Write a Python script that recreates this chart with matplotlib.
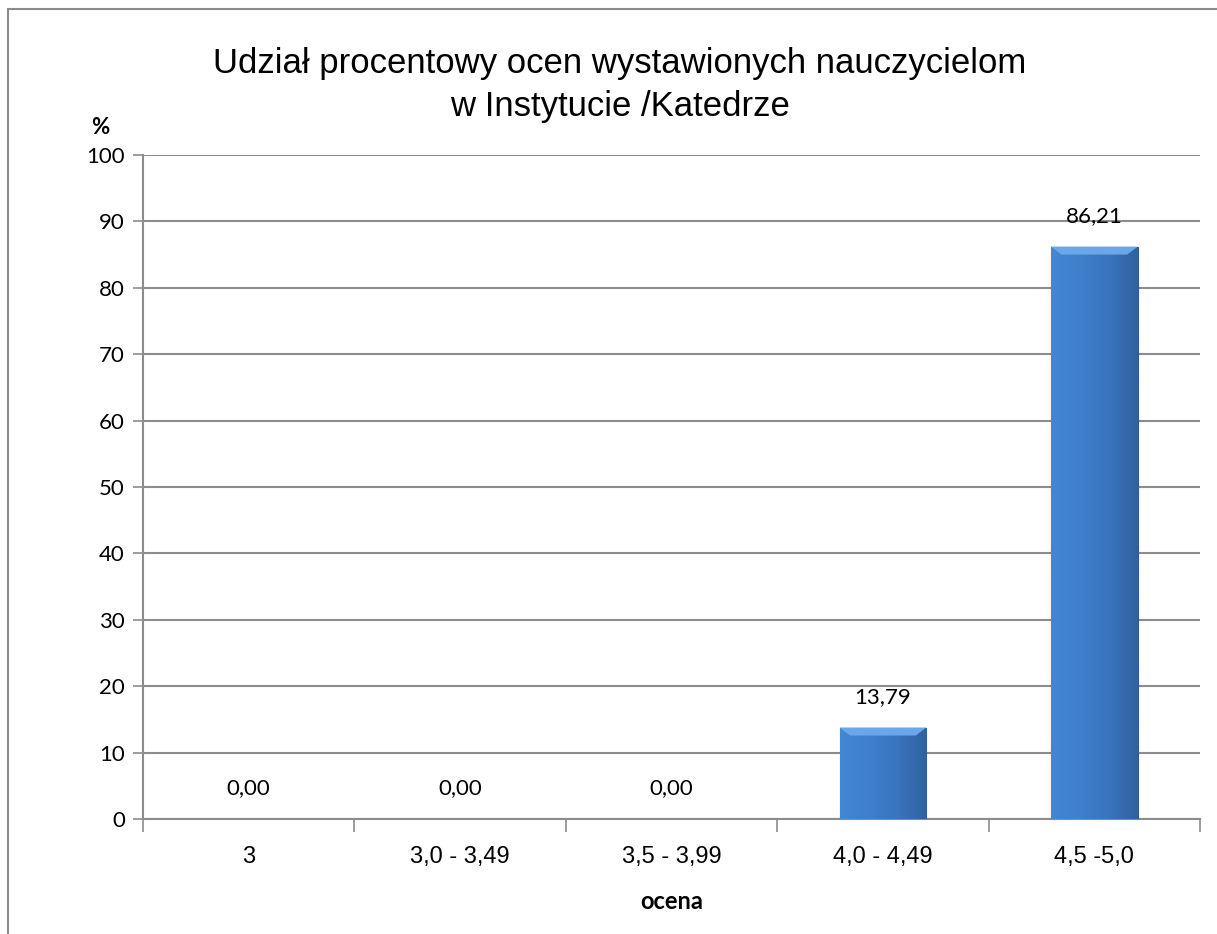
import matplotlib.pyplot as plt
import matplotlib.patches as mpatches
import numpy as np
from matplotlib.colors import LinearSegmentedColormap

categories = ["3", "3,0 - 3,49", "3,5 - 3,99", "4,0 - 4,49", "4,5 -5,0"]
values = [0.00, 0.00, 0.00, 13.79, 86.21]
title = "Udział procentowy ocen wystawionych nauczycielom\nw Instytucie /Katedrze"

narrow = ['Liberation Sans', 'DejaVu Sans']
calib = ['Lato', 'DejaVu Sans']

fig = plt.figure(figsize=(12.17, 9.34), dpi=100)
ax = fig.add_axes([0.1175, 0.123, 0.8685, 0.711])

# ramka wykresu
fig.patches.append(mpatches.Rectangle((7.5 / 1217, -0.1), 1.2, 1 - 8.5 / 934 + 0.1,
                                      transform=fig.transFigure, fill=False,
                                      edgecolor='#8c8c8c', linewidth=1.5))

x = np.arange(len(categories))
bw = 0.41
bars = ax.bar(x, values, width=bw, color='#3d7ac7', zorder=3)

cmap = LinearSegmentedColormap.from_list('b', ['#4586d3', '#3f7fcc', '#3a74bd', '#30629f'])
grad = np.linspace(0, 1, 64).reshape(1, -1)
for b in bars:
    h = b.get_height()
    if h <= 0:
        continue
    x0 = b.get_x()
    im = ax.imshow(grad, extent=[x0, x0 + bw, 0, h], aspect='auto', cmap=cmap, zorder=4)
    im.set_clip_path(b)
    b.set_edgecolor('#2b5a96')
    b.set_linewidth(0.8)
    # jasniejszy pasek u gory (efekt skosu)
    ax.add_patch(mpatches.Polygon([[x0, h], [x0 + bw, h], [x0 + bw * 0.88, h - 1.2],
                                   [x0 + bw * 0.12, h - 1.2]], closed=True,
                                  facecolor='#6aa6e8', edgecolor='none', zorder=5))

for xi, v in zip(x, values):
    ax.annotate(f"{v:.2f}".replace('.', ','), (xi, v), xytext=(0, 15),
                textcoords='offset points', ha='center', va='bottom',
                fontsize=16, family=calib, zorder=6)

ax.set_xlim(-0.5, len(categories) - 0.5)
ax.set_ylim(0, 100)
ax.set_yticks(range(0, 101, 10))
ax.set_yticklabels([str(t) for t in range(0, 101, 10)], fontsize=16, family=calib)
ax.set_xticks(x)
ax.set_xticklabels(categories, fontsize=17, family=narrow)
ax.set_xticks(np.arange(-0.5, len(categories)), minor=True)
ax.tick_params(axis='x', which='major', length=0, pad=19)
ax.tick_params(axis='x', which='minor', length=9, color='#8c8c8c', width=1.2)
ax.tick_params(axis='y', length=7, color='#8c8c8c', width=1.2, pad=6)

ax.grid(axis='y', color='#8c8c8c', linewidth=1.5, zorder=0)
ax.set_axisbelow(True)
for s in ['top', 'right']:
    ax.spines[s].set_visible(False)
for s in ['left', 'bottom']:
    ax.spines[s].set_color('#8c8c8c')
    ax.spines[s].set_linewidth(1.5)

ax.set_xlabel("ocena", fontsize=17, fontweight='bold', family=calib, labelpad=16)
fig.text(100 / 1217, 1 - 128 / 934, "%", fontsize=16, fontweight='bold', family=calib,
         ha='center', va='center')
fig.text(620 / 1217, 1 - 85 / 934, title, fontsize=25, family=narrow,
         ha='center', va='center', linespacing=1.4)

fig.savefig("out.png", dpi=100)
